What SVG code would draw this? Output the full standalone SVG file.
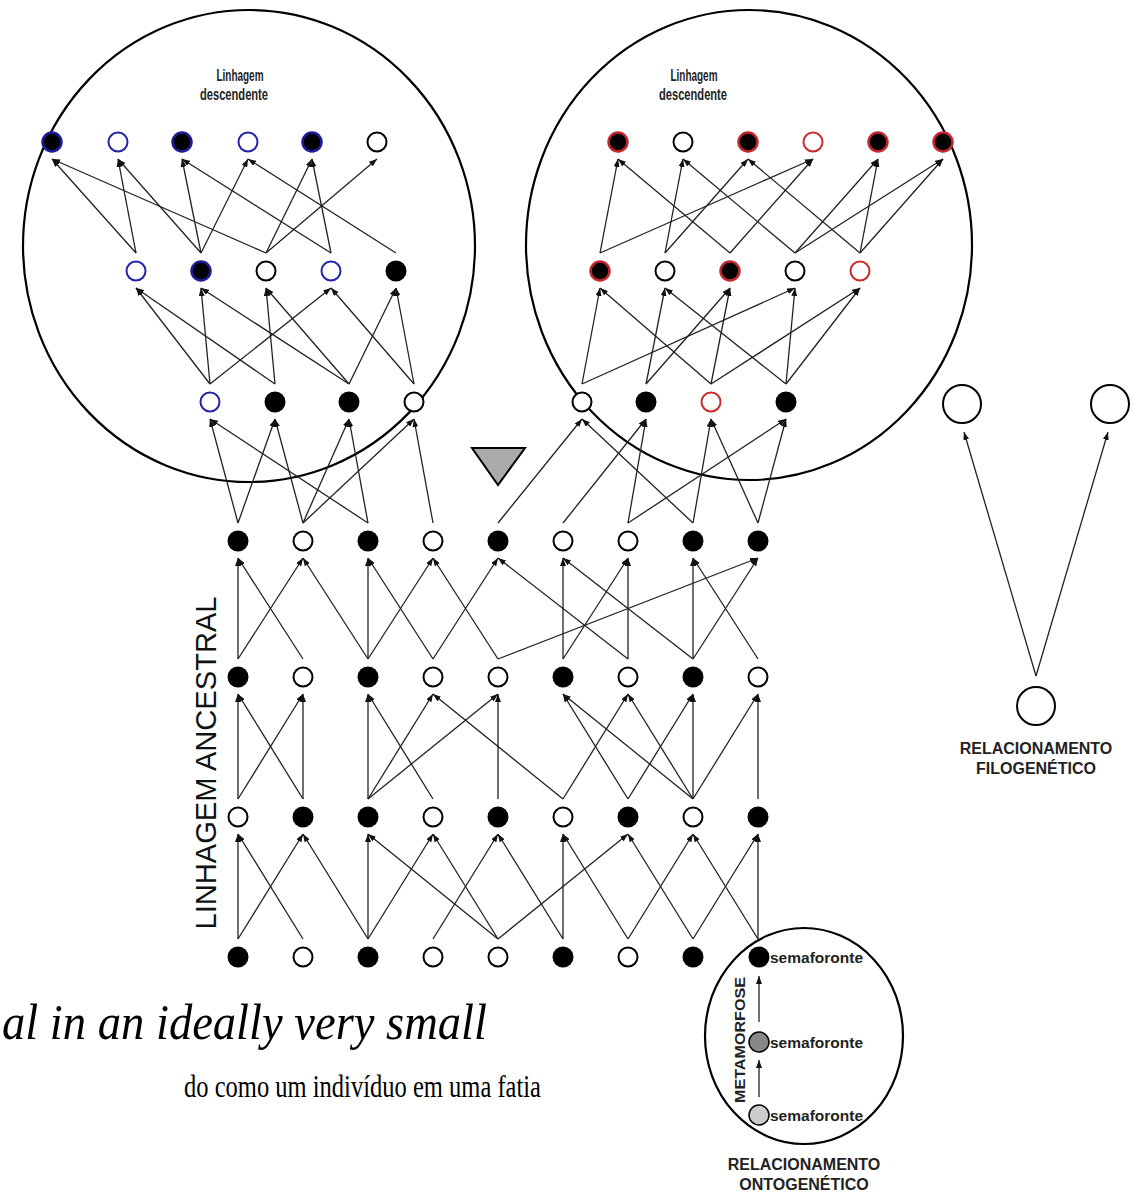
<svg xmlns="http://www.w3.org/2000/svg" width="1136" height="1193" viewBox="0 0 1136 1193">
<defs>
<marker id="ah" viewBox="0 0 8 6" refX="8" refY="3" markerWidth="8" markerHeight="6" markerUnits="userSpaceOnUse" orient="auto"><path d="M0,0 L8,3 L0,6 z" fill="#111"/></marker>
<style>
.oval{fill:none;stroke:#000;stroke-width:2.2}
.c line{stroke:#222;stroke-width:1.3;marker-end:url(#ah)}
.nf{fill:#000}
.no{fill:#fff;stroke:#000;stroke-width:2}
.bf{fill:#000;stroke:#1c1c9c;stroke-width:2.5}
.bo{fill:#fff;stroke:#2323a8;stroke-width:2}
.rf{fill:#000;stroke:#c4262e;stroke-width:2.5}
.ro{fill:#fff;stroke:#cc2b2b;stroke-width:2}
.big{fill:#fff;stroke:#000;stroke-width:2}
.lab{font-family:"Liberation Sans",Arial,sans-serif;font-weight:bold;fill:#222}
.hdr{font-family:"Liberation Sans",Arial,sans-serif;font-weight:bold;font-size:16px;fill:#222;text-anchor:middle}
.sema{font-family:"Liberation Sans",Arial,sans-serif;font-weight:bold;font-size:15.5px;fill:#222}
.rel{font-family:"Liberation Sans",Arial,sans-serif;font-weight:bold;font-size:16px;fill:#222;text-anchor:middle}
.ser{font-family:"Liberation Serif","Times New Roman",serif;fill:#000}
</style>
</defs>
<rect width="1136" height="1193" fill="#fff"/>

<g id="ovals">
<ellipse class="oval" cx="249" cy="246" rx="226" ry="236"/>
<ellipse class="oval" cx="749" cy="245" rx="223" ry="235"/>
<ellipse class="oval" cx="804" cy="1036" rx="99" ry="108"/>
</g>

<g id="labels">
<text class="hdr" x="240" y="81" textLength="47" lengthAdjust="spacingAndGlyphs">Linhagem</text>
<text class="hdr" x="234" y="100" textLength="68" lengthAdjust="spacingAndGlyphs">descendente</text>
<text class="hdr" x="694" y="81" textLength="47" lengthAdjust="spacingAndGlyphs">Linhagem</text>
<text class="hdr" x="693" y="100" textLength="68" lengthAdjust="spacingAndGlyphs">descendente</text>
<text font-family="Liberation Sans, Arial, sans-serif" font-size="30" fill="#111" text-anchor="middle" transform="translate(216,763) rotate(-90)" textLength="333" lengthAdjust="spacingAndGlyphs">LINHAGEM ANCESTRAL</text>
<text class="lab" font-size="15" text-anchor="middle" transform="translate(745,1040) rotate(-90)" textLength="126" lengthAdjust="spacingAndGlyphs">METAMORFOSE</text>
<text class="rel" x="1036" y="754">RELACIONAMENTO</text>
<text class="rel" x="1036" y="774">FILOGENÉTICO</text>
<text class="rel" x="804" y="1170">RELACIONAMENTO</text>
<text class="rel" x="804" y="1190">ONTOGENÉTICO</text>
<text class="ser" x="2" y="1039" font-size="50" font-style="italic" textLength="485" lengthAdjust="spacingAndGlyphs">al in an ideally very small</text>
<text class="ser" x="184" y="1097" font-size="31" textLength="357" lengthAdjust="spacingAndGlyphs">do como um indivíduo em uma fatia</text>
</g>

<polygon id="triangle" points="472,448 525,448 498,485" fill="#aaa" stroke="#000" stroke-width="2"/>

<g id="nodes">
<g id="LA0"><circle class="bf" cx="52" cy="142" r="9.5"/></g>
<g id="LA1"><circle class="bo" cx="118" cy="142" r="9.5"/></g>
<g id="LA2"><circle class="bf" cx="182" cy="142" r="9.5"/></g>
<g id="LA3"><circle class="bo" cx="248" cy="142" r="9.5"/></g>
<g id="LA4"><circle class="bf" cx="312" cy="142" r="9.5"/></g>
<g id="LA5"><circle class="no" cx="377" cy="142" r="9.5"/></g>
<g id="LB0"><circle class="bo" cx="136" cy="271" r="9.5"/></g>
<g id="LB1"><circle class="bf" cx="201" cy="271" r="9.5"/></g>
<g id="LB2"><circle class="no" cx="266" cy="271" r="9.5"/></g>
<g id="LB3"><circle class="bo" cx="331" cy="271" r="9.5"/></g>
<g id="LB4"><circle class="nf" cx="396" cy="271" r="10.5"/></g>
<g id="LC0"><circle class="bo" cx="210" cy="402" r="9.5"/></g>
<g id="LC1"><circle class="nf" cx="275" cy="402" r="10.5"/></g>
<g id="LC2"><circle class="nf" cx="349" cy="402" r="10.5"/></g>
<g id="LC3"><circle class="no" cx="414" cy="402" r="9.5"/></g>

<g id="RA0"><circle class="rf" cx="618" cy="142" r="9.5"/></g>
<g id="RA1"><circle class="no" cx="683" cy="142" r="9.5"/></g>
<g id="RA2"><circle class="rf" cx="748" cy="142" r="9.5"/></g>
<g id="RA3"><circle class="ro" cx="813" cy="142" r="9.5"/></g>
<g id="RA4"><circle class="rf" cx="878" cy="142" r="9.5"/></g>
<g id="RA5"><circle class="rf" cx="943" cy="142" r="9.5"/></g>
<g id="RB0"><circle class="rf" cx="600" cy="271" r="9.5"/></g>
<g id="RB1"><circle class="no" cx="665" cy="271" r="9.5"/></g>
<g id="RB2"><circle class="rf" cx="730" cy="271" r="9.5"/></g>
<g id="RB3"><circle class="no" cx="795" cy="271" r="9.5"/></g>
<g id="RB4"><circle class="ro" cx="860" cy="271" r="9.5"/></g>
<g id="RC0"><circle class="no" cx="582" cy="402" r="9.5"/></g>
<g id="RC1"><circle class="nf" cx="646" cy="402" r="10.5"/></g>
<g id="RC2"><circle class="ro" cx="711" cy="402" r="9.5"/></g>
<g id="RC3"><circle class="nf" cx="786" cy="402" r="10.5"/></g>

<g id="D0"><circle class="nf" cx="238" cy="541" r="10.5"/></g>
<g id="D1"><circle class="no" cx="303" cy="541" r="9.5"/></g>
<g id="D2"><circle class="nf" cx="368" cy="541" r="10.5"/></g>
<g id="D3"><circle class="no" cx="433" cy="541" r="9.5"/></g>
<g id="D4"><circle class="nf" cx="498" cy="541" r="10.5"/></g>
<g id="D5"><circle class="no" cx="563" cy="541" r="9.5"/></g>
<g id="D6"><circle class="no" cx="628" cy="541" r="9.5"/></g>
<g id="D7"><circle class="nf" cx="693" cy="541" r="10.5"/></g>
<g id="D8"><circle class="nf" cx="758" cy="541" r="10.5"/></g>

<g id="E0"><circle class="nf" cx="238" cy="677" r="10.5"/></g>
<g id="E1"><circle class="no" cx="303" cy="677" r="9.5"/></g>
<g id="E2"><circle class="nf" cx="368" cy="677" r="10.5"/></g>
<g id="E3"><circle class="no" cx="433" cy="677" r="9.5"/></g>
<g id="E4"><circle class="no" cx="498" cy="677" r="9.5"/></g>
<g id="E5"><circle class="nf" cx="563" cy="677" r="10.5"/></g>
<g id="E6"><circle class="no" cx="628" cy="677" r="9.5"/></g>
<g id="E7"><circle class="nf" cx="693" cy="677" r="10.5"/></g>
<g id="E8"><circle class="no" cx="758" cy="677" r="9.5"/></g>

<g id="F0"><circle class="no" cx="238" cy="817" r="9.5"/></g>
<g id="F1"><circle class="nf" cx="303" cy="817" r="10.5"/></g>
<g id="F2"><circle class="nf" cx="368" cy="817" r="10.5"/></g>
<g id="F3"><circle class="no" cx="433" cy="817" r="9.5"/></g>
<g id="F4"><circle class="nf" cx="498" cy="817" r="10.5"/></g>
<g id="F5"><circle class="no" cx="563" cy="817" r="9.5"/></g>
<g id="F6"><circle class="nf" cx="628" cy="817" r="10.5"/></g>
<g id="F7"><circle class="no" cx="693" cy="817" r="9.5"/></g>
<g id="F8"><circle class="nf" cx="758" cy="817" r="10.5"/></g>

<g id="G0"><circle class="nf" cx="238" cy="957" r="10.5"/></g>
<g id="G1"><circle class="no" cx="303" cy="957" r="9.5"/></g>
<g id="G2"><circle class="nf" cx="368" cy="957" r="10.5"/></g>
<g id="G3"><circle class="no" cx="433" cy="957" r="9.5"/></g>
<g id="G4"><circle class="no" cx="498" cy="957" r="9.5"/></g>
<g id="G5"><circle class="nf" cx="563" cy="957" r="10.5"/></g>
<g id="G6"><circle class="no" cx="628" cy="957" r="9.5"/></g>
<g id="G7"><circle class="nf" cx="693" cy="957" r="10.5"/></g>
<g id="S1"><circle class="nf" cx="759" cy="957" r="10.5"/><text class="sema" x="770" y="963">semaforonte</text></g>
<g id="S2"><circle cx="759" cy="1042" r="10" fill="#888" stroke="#000" stroke-width="1.5"/><text class="sema" x="770" y="1048">semaforonte</text></g>
<g id="S3"><circle cx="759" cy="1115" r="10" fill="#ccc" stroke="#000" stroke-width="1.5"/><text class="sema" x="770" y="1121">semaforonte</text></g>

<g id="P1"><circle class="big" cx="962" cy="404" r="19"/></g>
<g id="P2"><circle class="big" cx="1110" cy="404" r="19"/></g>
<g id="P0"><circle class="big" cx="1036" cy="706" r="19"/></g>
</g>

<g id="connectors" class="c">
<line x1="136" y1="253" x2="52" y2="159"/>
<line x1="266" y1="253" x2="52" y2="159"/>
<line x1="136" y1="253" x2="118" y2="159"/>
<line x1="201" y1="253" x2="118" y2="159"/>
<line x1="201" y1="253" x2="182" y2="159"/>
<line x1="331" y1="253" x2="182" y2="159"/>
<line x1="201" y1="253" x2="248" y2="159"/>
<line x1="396" y1="253" x2="248" y2="159"/>
<line x1="266" y1="253" x2="312" y2="159"/>
<line x1="331" y1="253" x2="312" y2="159"/>
<line x1="266" y1="253" x2="377" y2="159"/>
<line x1="210" y1="384" x2="136" y2="288"/>
<line x1="275" y1="384" x2="136" y2="288"/>
<line x1="210" y1="384" x2="201" y2="288"/>
<line x1="349" y1="384" x2="201" y2="288"/>
<line x1="275" y1="384" x2="266" y2="288"/>
<line x1="349" y1="384" x2="266" y2="288"/>
<line x1="210" y1="384" x2="331" y2="288"/>
<line x1="414" y1="384" x2="331" y2="288"/>
<line x1="349" y1="384" x2="396" y2="288"/>
<line x1="414" y1="384" x2="396" y2="288"/>
<line x1="238" y1="523" x2="210" y2="419"/>
<line x1="368" y1="523" x2="210" y2="419"/>
<line x1="238" y1="523" x2="275" y2="419"/>
<line x1="303" y1="523" x2="275" y2="419"/>
<line x1="303" y1="523" x2="349" y2="419"/>
<line x1="368" y1="523" x2="349" y2="419"/>
<line x1="303" y1="523" x2="414" y2="419"/>
<line x1="433" y1="523" x2="414" y2="419"/>
<line x1="600" y1="253" x2="618" y2="159"/>
<line x1="730" y1="253" x2="618" y2="159"/>
<line x1="665" y1="253" x2="683" y2="159"/>
<line x1="795" y1="253" x2="683" y2="159"/>
<line x1="665" y1="253" x2="748" y2="159"/>
<line x1="860" y1="253" x2="748" y2="159"/>
<line x1="600" y1="253" x2="813" y2="159"/>
<line x1="730" y1="253" x2="813" y2="159"/>
<line x1="795" y1="253" x2="878" y2="159"/>
<line x1="860" y1="253" x2="878" y2="159"/>
<line x1="795" y1="253" x2="943" y2="159"/>
<line x1="860" y1="253" x2="943" y2="159"/>
<line x1="582" y1="384" x2="600" y2="288"/>
<line x1="711" y1="384" x2="600" y2="288"/>
<line x1="646" y1="384" x2="665" y2="288"/>
<line x1="786" y1="384" x2="665" y2="288"/>
<line x1="646" y1="384" x2="730" y2="288"/>
<line x1="711" y1="384" x2="730" y2="288"/>
<line x1="582" y1="384" x2="795" y2="288"/>
<line x1="786" y1="384" x2="795" y2="288"/>
<line x1="711" y1="384" x2="860" y2="288"/>
<line x1="786" y1="384" x2="860" y2="288"/>
<line x1="498" y1="523" x2="582" y2="419"/>
<line x1="693" y1="523" x2="582" y2="419"/>
<line x1="563" y1="523" x2="646" y2="419"/>
<line x1="628" y1="523" x2="646" y2="419"/>
<line x1="693" y1="523" x2="711" y2="419"/>
<line x1="758" y1="523" x2="711" y2="419"/>
<line x1="628" y1="523" x2="786" y2="419"/>
<line x1="758" y1="523" x2="786" y2="419"/>
<line x1="238" y1="659" x2="238" y2="558"/>
<line x1="303" y1="659" x2="238" y2="558"/>
<line x1="238" y1="659" x2="303" y2="558"/>
<line x1="368" y1="659" x2="303" y2="558"/>
<line x1="368" y1="659" x2="368" y2="558"/>
<line x1="433" y1="659" x2="368" y2="558"/>
<line x1="368" y1="659" x2="433" y2="558"/>
<line x1="498" y1="659" x2="433" y2="558"/>
<line x1="433" y1="659" x2="498" y2="558"/>
<line x1="628" y1="659" x2="498" y2="558"/>
<line x1="563" y1="659" x2="563" y2="558"/>
<line x1="693" y1="659" x2="563" y2="558"/>
<line x1="563" y1="659" x2="628" y2="558"/>
<line x1="628" y1="659" x2="628" y2="558"/>
<line x1="693" y1="659" x2="693" y2="558"/>
<line x1="758" y1="659" x2="693" y2="558"/>
<line x1="498" y1="659" x2="758" y2="558"/>
<line x1="693" y1="659" x2="758" y2="558"/>
<line x1="238" y1="799" x2="238" y2="694"/>
<line x1="303" y1="799" x2="238" y2="694"/>
<line x1="238" y1="799" x2="303" y2="694"/>
<line x1="303" y1="799" x2="303" y2="694"/>
<line x1="368" y1="799" x2="368" y2="694"/>
<line x1="433" y1="799" x2="368" y2="694"/>
<line x1="368" y1="799" x2="433" y2="694"/>
<line x1="563" y1="799" x2="433" y2="694"/>
<line x1="368" y1="799" x2="498" y2="694"/>
<line x1="498" y1="799" x2="498" y2="694"/>
<line x1="628" y1="799" x2="563" y2="694"/>
<line x1="693" y1="799" x2="563" y2="694"/>
<line x1="563" y1="799" x2="628" y2="694"/>
<line x1="693" y1="799" x2="628" y2="694"/>
<line x1="628" y1="799" x2="693" y2="694"/>
<line x1="693" y1="799" x2="693" y2="694"/>
<line x1="693" y1="799" x2="758" y2="694"/>
<line x1="758" y1="799" x2="758" y2="694"/>
<line x1="238" y1="939" x2="238" y2="834"/>
<line x1="303" y1="939" x2="238" y2="834"/>
<line x1="238" y1="939" x2="303" y2="834"/>
<line x1="368" y1="939" x2="303" y2="834"/>
<line x1="368" y1="939" x2="368" y2="834"/>
<line x1="498" y1="939" x2="368" y2="834"/>
<line x1="368" y1="939" x2="433" y2="834"/>
<line x1="498" y1="939" x2="433" y2="834"/>
<line x1="433" y1="939" x2="498" y2="834"/>
<line x1="563" y1="939" x2="498" y2="834"/>
<line x1="563" y1="939" x2="563" y2="834"/>
<line x1="628" y1="939" x2="563" y2="834"/>
<line x1="498" y1="939" x2="628" y2="834"/>
<line x1="693" y1="939" x2="628" y2="834"/>
<line x1="628" y1="939" x2="693" y2="834"/>
<line x1="758" y1="939" x2="693" y2="834"/>
<line x1="693" y1="939" x2="758" y2="834"/>
<line x1="758" y1="939" x2="758" y2="834"/>
<line x1="759" y1="1097" x2="759" y2="1060"/>
<line x1="759" y1="1022" x2="759" y2="976"/>
<line x1="1036" y1="676" x2="964" y2="432"/>
<line x1="1036" y1="676" x2="1108" y2="432"/>
</g>
</svg>
